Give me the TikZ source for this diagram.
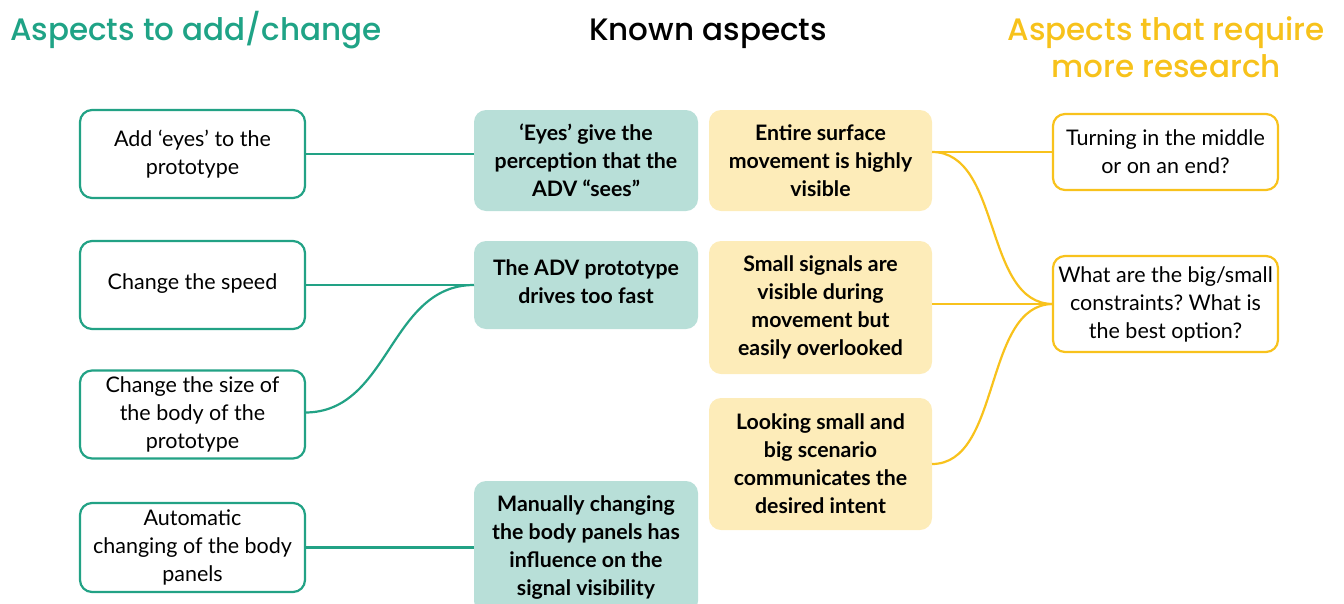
\documentclass[tikz,border=0pt]{standalone}
\usepackage{fontspec}
\setmainfont{Lato}
\newfontfamily\headfont{Poppins Medium}
\frenchspacing
\definecolor{tealline}{HTML}{22A285}
\definecolor{tealfill}{HTML}{B8DFD8}
\definecolor{goldline}{HTML}{F8C21C}
\definecolor{goldfill}{HTML}{FDECB9}
\definecolor{headteal}{HTML}{1FA386}
\definecolor{headgold}{HTML}{F7C21B}
\begin{document}
\begin{tikzpicture}[x=1pt,y=-1pt,
  every node/.style={inner sep=0pt, outer sep=0pt},
  body/.style={font=\fontsize{21.5}{28}\selectfont, align=center},
  boldbody/.style={font=\fontsize{21.3}{28}\selectfont\bfseries, align=center},
  heading/.style={font=\fontsize{31}{37}\selectfont\headfont, align=center},
  outlinebox/.style={draw, line width=2.2pt, rounded corners=12pt, fill=white,
    minimum width=225pt, minimum height=88pt},
  tealbox/.style={outlinebox, draw=tealline},
  goldbox/.style={outlinebox, draw=goldline, minimum height=76pt},
  knownteal/.style={fill=tealfill, rounded corners=12pt, minimum width=224pt},
  knowngold/.style={fill=goldfill, rounded corners=12pt, minimum width=223pt},
  tealwire/.style={draw=tealline, line width=2.2pt},
  goldwire/.style={draw=goldline, line width=2.2pt},
]
\useasboundingbox (0,0) rectangle (1344,603);

% column headings
\node[heading, text=headteal, anchor=base west] (h1) at (10,40) {Aspects to add/change};
\node[heading, text=black, anchor=base] (h2) at (708,40) {Known aspects};
\node[heading, text=headgold, anchor=base] (h3a) at (1166,40) {Aspects that require};
\node[heading, text=headgold, anchor=base] (h3b) at (1166,77) {more research};

% changes on the left
\node[tealbox, body] (c1) at (192.5,154) {Add ‘eyes’ to the\\prototype};
\node[tealbox, body] (c2) at (192.5,285) {\raisebox{6pt}{Change the speed}};
\node[tealbox, body] (c3) at (192.5,414.5) {Change the size of\\the body of the\\prototype};
\node[tealbox, body, minimum height=89pt] (c4) at (192.5,547.5) {Automatic\\changing of the body\\panels};

% known aspects, teal column
\node[knownteal, boldbody, minimum height=101pt] (k1) at (586,160.5) {‘Eyes’ give the\\perception that the\\ADV “sees”};
\node[knownteal, boldbody, minimum height=88pt] (k2) at (586,285) {\raisebox{6pt}{The ADV prototype}\\\raisebox{6pt}{drives too fast}};
\node[knownteal, boldbody, minimum height=132pt] (k3) at (586,547) {Manually changing\\the body panels has\\influence on the\\signal visibility};

% known aspects, yellow column
\node[knowngold, boldbody, minimum height=101pt] (g1) at (820.5,160.5) {Entire surface\\movement is highly\\visible};
\node[knowngold, boldbody, minimum height=133pt] (g2) at (820.5,307.5) {Small signals are\\visible during\\movement but\\easily overlooked};
\node[knowngold, boldbody, minimum height=132pt] (g3) at (820.5,464) {Looking small and\\big scenario\\communicates the\\desired intent};

% open questions on the right
\node[goldbox, body] (q1) at (1165.5,152) {Turning in the middle\\or on an end?};
\node[goldbox, body, minimum height=96pt] (q2) at (1165.5,304) {What are the big/small\\constraints? What is\\the best option?};

% teal connectors
\draw[tealwire] (c1.east) -- (c1.east -| k1.west);
\draw[tealwire] (c2.east) -- (k2.west);
\draw[tealwire] ([yshift=2pt]c3.east) .. controls +(85,0) and +(-85,0) .. (k2.west);
\draw[tealwire] (c4.east) -- (c4.east -| k3.west);

% yellow connectors
\draw[goldwire] (q1.west -| g1.east) -- (q1.west);
\draw[goldwire] (q1.west -| g1.east) .. controls +(70,0) and +(-70,0) .. (q2.west);
\draw[goldwire] (q2.west -| g2.east) -- (q2.west);
\draw[goldwire] (g3.east) .. controls +(70,0) and +(-70,0) .. (q2.west);
\end{tikzpicture}
\end{document}
